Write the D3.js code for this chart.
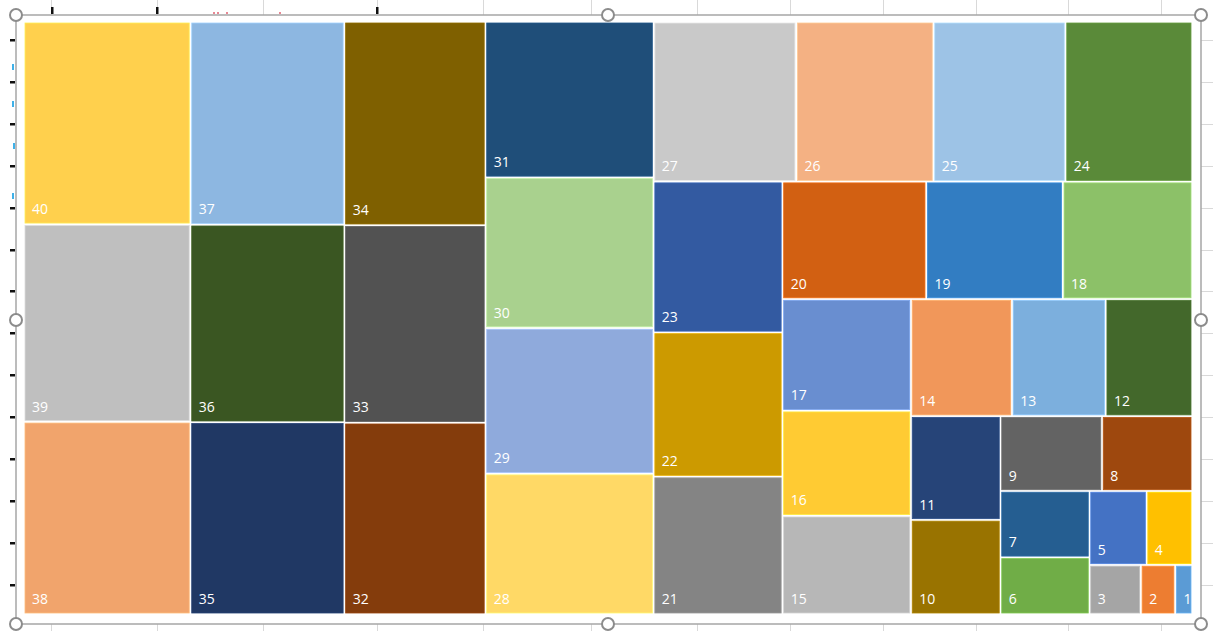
<!DOCTYPE html>
<html>
<head>
<meta charset="utf-8">
<script src="https://cdn.jsdelivr.net/npm/d3@7"></script>
<style>
  body { margin: 0; background: #ffffff; }
  svg { display: block; }
</style>
</head>
<body>
<div id="chart"></div>
<script>
// values: each box shows its own value
var labels = ["40","39","38","37","36","35","34","33","32","31","30","29","28","27","26","25","24","23","22","21",
              "20","19","18","17","16","15","14","13","12","11","10","9","8","7","6","5","4","3","2","1"];
var values = [40,39,38,37,36,35,34,33,32,31,30,29,28,27,26,25,24,23,22,21,
              20,19,18,17,16,15,14,13,12,11,10,9,8,7,6,5,4,3,2,1];
var colors = ["#FFD04D","#BFBFBF","#F1A46C","#8DB7E1","#3A5622","#203864","#7F6000","#525252","#843C0C","#1F4E79",
              "#A9D18E","#8FAADC","#FFD966","#C9C9C9","#F4B183","#9DC3E6","#5A8A39","#335AA1","#CC9A00","#848484",
              "#D26012","#327DC2","#8CC168","#698ED0","#FFCB33","#B7B7B7","#F1975A","#7CAFDD","#43682B","#264478",
              "#997300","#636363","#9E480E","#255E91","#70AD47","#4472C4","#FFC000","#A5A5A5","#ED7D31","#5B9BD5"];

var W = 1213, H = 631;
var svg = d3.select("#chart").append("svg")
    .attr("width", W)
    .attr("height", H);

// worksheet gridlines peeking out behind the chart
var grid = svg.append("g").attr("stroke", "#d9d9d9").attr("stroke-width", 1);
var colX = [51, 157, 263, 377, 483, 591, 697, 790, 883, 976, 1068, 1161];
colX.forEach(x => {
  grid.append("line").attr("x1", x + 0.5).attr("x2", x + 0.5).attr("y1", 0).attr("y2", 15);
  grid.append("line").attr("x1", x + 0.5).attr("x2", x + 0.5).attr("y1", 624).attr("y2", H);
});
d3.range(14).forEach(i => {
  var y = Math.round(40 + i * 41.9) + 0.5;
  grid.append("line").attr("x1", 1201).attr("x2", W).attr("y1", y).attr("y2", y);
  svg.append("rect").attr("x", 10).attr("y", y - 1.5).attr("width", 5).attr("height", 2.5).attr("fill", "#111");
});
[52, 157, 377].forEach(x => {
  svg.append("rect").attr("x", x - 1).attr("y", 7).attr("width", 2.5).attr("height", 7).attr("fill", "#111");
});
[[214, 13], [218, 13], [227, 13], [280, 13]].forEach(p => {
  svg.append("circle").attr("cx", p[0]).attr("cy", p[1]).attr("r", 1).attr("fill", "#e06070");
});
[[12, 67], [12, 104], [13, 146], [12, 196]].forEach(p => {
  svg.append("rect").attr("x", p[0]).attr("y", p[1] - 3).attr("width", 2).attr("height", 6).attr("fill", "#3fb1e8");
});

// squarify with a free aspect ratio (d3's own one clamps it to >= 1)
function squarifyTile(ratio) {
  return function(parent, x0, y0, x1, y1) {
    var nodes = parent.children, n = nodes.length, value = parent.value;
    var i0 = 0, i1 = 0;
    while (i0 < n) {
      var dx = x1 - x0, dy = y1 - y0;
      var sumValue = nodes[i1++].value;
      var minValue = sumValue, maxValue = sumValue;
      var alpha = Math.max(dy / dx, dx / dy) / (value * ratio);
      var beta = sumValue * sumValue * alpha;
      var minRatio = Math.max(maxValue / beta, beta / minValue);
      for (; i1 < n; ++i1) {
        var v = nodes[i1].value;
        sumValue += v;
        if (v < minValue) minValue = v;
        if (v > maxValue) maxValue = v;
        beta = sumValue * sumValue * alpha;
        var newRatio = Math.max(maxValue / beta, beta / minValue);
        if (newRatio > minRatio) { sumValue -= v; break; }
        minRatio = newRatio;
      }
      var row = {value: sumValue, children: nodes.slice(i0, i1)};
      if (dx < dy) d3.treemapDice(row, x0, y0, x1, value ? y0 += dy * sumValue / value : y1);
      else d3.treemapSlice(row, x0, y0, value ? x0 += dx * sumValue / value : x1, y1);
      value -= sumValue;
      i0 = i1;
    }
  };
}

var leaves = labels.map((l, i) => ({name: l, value: values[i], color: colors[i]}));
var root = d3.hierarchy({name: "root", children: leaves})
    .sum(d => d.value || 0);

var area = {x: 24, y: 22, w: 1168, h: 592};
d3.treemap()
    .tile(squarifyTile(0.93))
    .size([area.w, area.h])
    .paddingOuter(1)
    .paddingInner(2.5)(root);

var cells = svg.append("g")
    .attr("transform", "translate(" + area.x + "," + area.y + ")")
  .selectAll("g")
  .data(root.leaves())
  .enter().append("g")
    .attr("transform", d => "translate(" + d.x0 + "," + d.y0 + ")");

cells.append("rect")
    .attr("width", d => d.x1 - d.x0)
    .attr("height", d => d.y1 - d.y0)
    .attr("fill", d => d.data.color)
    .attr("stroke", d => d3.color(d.data.color).brighter(0.4))
    .attr("stroke-width", 0.8);

cells.append("text")
    .attr("x", 7)
    .attr("y", d => d.y1 - d.y0 - 9)
    .attr("fill", "#ffffff")
    .attr("font-family", "'Open Sans', 'Noto Sans', sans-serif")
    .attr("font-size", 14)
    .text(d => d.data.name);

// chart frame with selection handles
var frame = {x0: 16, y0: 15, x1: 1201, y1: 624};
svg.append("rect")
    .attr("x", frame.x0).attr("y", frame.y0)
    .attr("width", frame.x1 - frame.x0).attr("height", frame.y1 - frame.y0)
    .attr("fill", "none")
    .attr("stroke", "#a6a6a6")
    .attr("stroke-width", 1.5);

var mx = (frame.x0 + frame.x1) / 2 - 0.5, my = (frame.y0 + frame.y1) / 2 + 0.5;
var handles = [[frame.x0, frame.y0], [mx, frame.y0], [frame.x1, frame.y0],
               [frame.x0, my], [frame.x1, my],
               [frame.x0, frame.y1], [mx, frame.y1], [frame.x1, frame.y1]];
svg.selectAll("circle.handle")
  .data(handles)
  .enter().append("circle")
    .attr("class", "handle")
    .attr("cx", d => d[0]).attr("cy", d => d[1])
    .attr("r", 6)
    .attr("fill", "#ffffff")
    .attr("stroke", "#8c8c8c")
    .attr("stroke-width", 2);
</script>
</body>
</html>
